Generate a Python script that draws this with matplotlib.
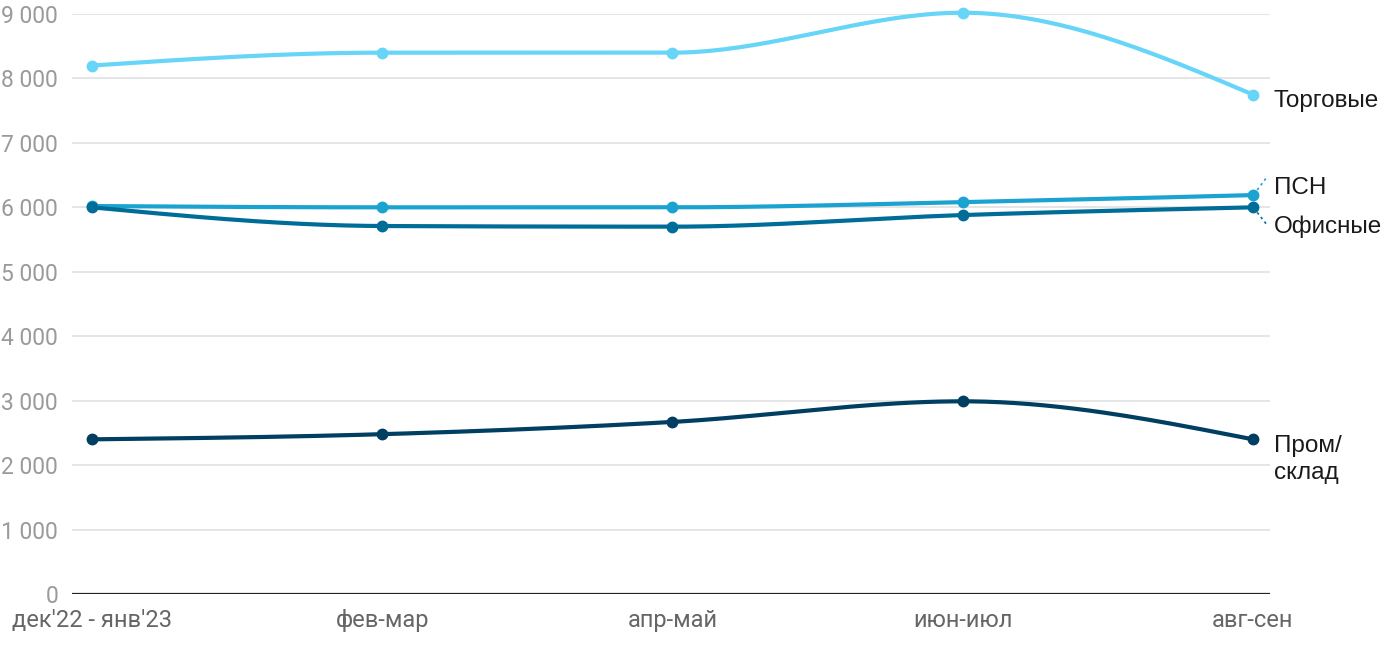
import numpy as np
import matplotlib
matplotlib.use("Agg")
import matplotlib.pyplot as plt

plt.rcParams['font.family'] = ['Roboto', 'DejaVu Sans']

categories = ["дек'22 - янв'23", "фев-мар", "апр-май", "июн-июл", "авг-сен"]
trade = [8200, 8400, 8400, 9020, 7750]
psn = [6020, 6000, 6000, 6080, 6190]
office = [6000, 5710, 5700, 5880, 6000]
industrial = [2400, 2480, 2670, 2990, 2400]
y_ticks = [0, 1000, 2000, 3000, 4000, 5000, 6000, 7000, 8000, 9000]

series = [
    ("Торговые", trade, "#66d5f7"),
    ("ПСН", psn, "#1aa3d1"),
    ("Офисные", office, "#006d99"),
    ("Пром/\nсклад", industrial, "#003f62"),
]


def monotone(x, y, n=40):
    x = np.asarray(x, float)
    y = np.asarray(y, float)
    h = np.diff(x)
    d = np.diff(y) / h
    m = np.zeros_like(y)
    for i in range(1, len(y) - 1):
        if d[i - 1] * d[i] <= 0:
            m[i] = 0
        else:
            m[i] = (np.sign(d[i - 1]) + np.sign(d[i])) * min(abs(d[i - 1]), abs(d[i]), 0.5 * abs((h[i - 1] * d[i] + h[i] * d[i - 1]) / (h[i - 1] + h[i])))
    m[0] = (3 * d[0] - m[1]) / 2
    m[-1] = (3 * d[-1] - m[-2]) / 2
    xs, ys = [], []
    for i in range(len(x) - 1):
        t = np.linspace(0, 1, n)
        h00 = 2 * t**3 - 3 * t**2 + 1
        h10 = t**3 - 2 * t**2 + t
        h01 = -2 * t**3 + 3 * t**2
        h11 = t**3 - t**2
        xs.append(x[i] + t * h[i])
        ys.append(h00 * y[i] + h10 * h[i] * m[i] + h01 * y[i + 1] + h11 * h[i] * m[i + 1])
    return np.concatenate(xs), np.concatenate(ys)


fig = plt.figure(figsize=(14, 6.5), dpi=100)
L, R = 72 / 1400, 1270 / 1400
B, T = (650 - 594) / 650, (650 - 14) / 650
ax = fig.add_axes([L, B, R - L, T - B])

xpos = np.arange(len(categories))
ax.set_xlim(-0.069, 4.059)
ax.set_ylim(0, 9000)

for v in y_ticks[1:]:
    ax.axhline(v, color="#e0e0e0", lw=1.2, zorder=0)
ax.axhline(0, color="#222222", lw=1.6, zorder=1)

for name, vals, col in series:
    sx, sy = monotone(xpos, vals)
    ax.plot(sx, sy, color=col, lw=3, clip_on=False, zorder=3, solid_capstyle='round')
    ax.plot(xpos, vals, 'o', color=col, ms=7.5, clip_on=False, zorder=4)

for s in ax.spines.values():
    s.set_visible(False)
ax.set_yticks(y_ticks)
ax.set_yticklabels([f"{v:,}".replace(",", " ") for v in y_ticks])
ax.tick_params(axis='y', length=0, pad=10, labelsize=16.5, labelcolor="#9a9a9a")
ax.set_xticks(xpos)
ax.set_xticklabels(categories)
ax.tick_params(axis='x', length=0, pad=11, labelsize=17, labelcolor="#666666")

# right labels
lab_fam = ['Liberation Sans', 'DejaVu Sans']
lab_x = 4.072
lab_kw = dict(fontsize=17.5, color="#1a1a1a", va="center", ha="left", clip_on=False, family=lab_fam)
ax.text(lab_x, 7650, "Торговые", **lab_kw)
ax.text(lab_x, 6300, "ПСН", **lab_kw)
ax.text(lab_x, 5700, "Офисные", **lab_kw)
ax.text(lab_x, 2090, "Пром/\nсклад", linespacing=1.28, **lab_kw)
ax.plot([4.015, 4.05], [6270, 6480], color="#1aa3d1", lw=1.2, ls=(0, (1.5, 2)), clip_on=False)
ax.plot([4.015, 4.05], [5920, 5720], color="#006d99", lw=1.2, ls=(0, (1.5, 2)), clip_on=False)

fig.savefig("out.png", dpi=100)
